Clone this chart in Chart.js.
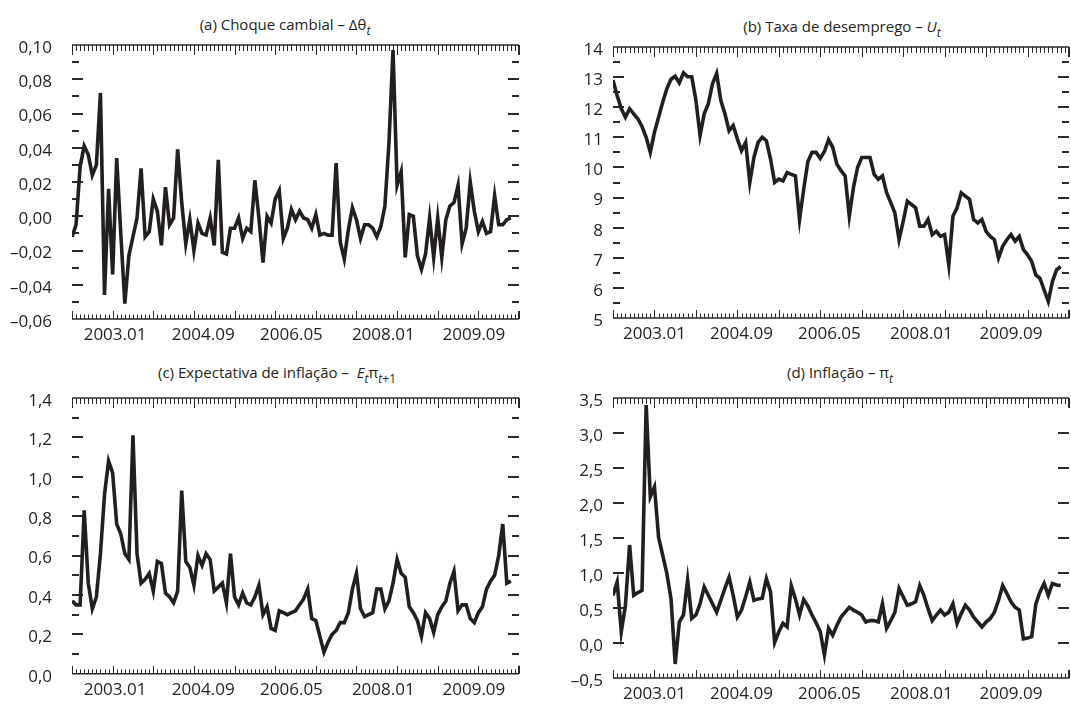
<!DOCTYPE html>
<html>
<head>
<meta charset="utf-8">
<script src="https://cdn.jsdelivr.net/npm/chart.js@4.4.1/dist/chart.umd.min.js"></script>
<style>
  body { margin: 0; background: #fff; width: 1071px; height: 704px; position: relative; overflow: hidden;
         font-family: 'Open Sans', sans-serif; color: #231f20; }
  canvas { position: absolute; }
  .ttl { position: absolute; transform: translate(-50%, -50%); font-size: 15px; line-height: 20px; white-space: nowrap; }
  .ttl sub { font-size: 12px; line-height: 0; vertical-align: -5px; }
</style>
</head>
<body>
<div class="ttl" style="left:285px;top:24px">(a) Choque cambial – Δθ<sub><i>t</i></sub></div>
<div class="ttl" style="left:842px;top:26px">(b) Taxa de desemprego – <i>U</i><sub><i>t</i></sub></div>
<div class="ttl" style="left:277px;top:372px">(c) Expectativa de inflação – &nbsp;<i>E</i><sub><i>t</i></sub>π<sub><i>t</i>+1</sub></div>
<div class="ttl" style="left:840px;top:372px">(d) Inflação – π<sub><i>t</i></sub></div>

<canvas id="chart-a" width="540" height="352" style="left:0;top:0"></canvas>
<canvas id="chart-b" width="531" height="352" style="left:540px;top:0"></canvas>
<canvas id="chart-c" width="540" height="352" style="left:0;top:352px"></canvas>
<canvas id="chart-d" width="531" height="352" style="left:540px;top:352px"></canvas>

<script>
// ===========================================
// Data (monthly observations, read off the figure)
// ===========================================

const choqueCambial = [
  -0.012, -0.005, 0.029, 0.041, 0.036, 0.024, 0.030, 0.072, -0.046, 0.016,
  -0.034, 0.034, -0.010, -0.051, -0.023, -0.012, -0.001, 0.028, -0.012, -0.009,
  0.010, 0.003, -0.017, 0.017, -0.005, -0.001, 0.039, 0.008, -0.016, -0.002,
  -0.020, -0.004, -0.010, -0.011, -0.001, -0.017, 0.033, -0.021, -0.022, -0.007,
  -0.007, -0.001, -0.013, -0.007, -0.009, 0.021, -0.001, -0.027, 0.000, -0.004,
  0.010, 0.015, -0.013, -0.007, 0.004, -0.002, 0.003, -0.001, -0.002, -0.007,
  0.001, -0.011, -0.010, -0.011, -0.011, 0.031, -0.015, -0.025, -0.008, 0.005,
  -0.002, -0.013, -0.005, -0.005, -0.007, -0.012, -0.006, 0.006, 0.043, 0.097,
  0.018, 0.026, -0.024, 0.001, 0.000, -0.023, -0.031, -0.022, -0.001, -0.024,
  -0.001, -0.024, -0.002, 0.006, 0.008, 0.018, -0.016, -0.007, 0.020, 0.003,
  -0.009, -0.003, -0.010, -0.009, 0.012, -0.005, -0.005, -0.002, -0.001
];

const taxaDesemprego = [
  12.90, 12.39, 11.95, 11.67, 11.95, 11.78, 11.61, 11.36, 11.00, 10.50,
  11.17, 11.67, 12.17, 12.62, 12.93, 13.03, 12.81, 13.14, 13.01, 13.01,
  12.23, 11.06, 11.78, 12.12, 12.78, 13.12, 12.23, 11.78, 11.22, 11.39,
  10.95, 10.56, 10.83, 9.50, 10.33, 10.83, 11.00, 10.89, 10.28, 9.50,
  9.61, 9.55, 9.83, 9.77, 9.72, 8.27, 9.28, 10.19, 10.50, 10.50,
  10.30, 10.53, 10.92, 10.67, 10.11, 9.89, 9.72, 8.38, 9.33, 10.00,
  10.33, 10.33, 10.33, 9.77, 9.61, 9.72, 9.16, 8.83, 8.49, 7.60,
  8.21, 8.88, 8.77, 8.66, 8.05, 8.05, 8.27, 7.77, 7.88, 7.71,
  7.77, 6.76, 8.38, 8.66, 9.16, 9.05, 8.94, 8.27, 8.16, 8.27,
  7.88, 7.71, 7.60, 6.99, 7.38, 7.60, 7.77, 7.55, 7.71, 7.27,
  7.10, 6.88, 6.43, 6.32, 5.93, 5.55, 6.21, 6.60, 6.71
];

const expectativaInflacao = [
  0.37, 0.35, 0.35, 0.83, 0.46, 0.33, 0.39, 0.61, 0.91, 1.08,
  1.02, 0.76, 0.71, 0.61, 0.58, 1.21, 0.61, 0.46, 0.48, 0.51,
  0.42, 0.57, 0.56, 0.41, 0.39, 0.36, 0.42, 0.93, 0.57, 0.54,
  0.45, 0.60, 0.55, 0.61, 0.58, 0.42, 0.44, 0.46, 0.36, 0.61,
  0.39, 0.35, 0.41, 0.36, 0.35, 0.39, 0.45, 0.30, 0.34, 0.23,
  0.22, 0.32, 0.31, 0.30, 0.31, 0.32, 0.35, 0.38, 0.43, 0.28,
  0.27, 0.19, 0.11, 0.16, 0.20, 0.22, 0.26, 0.26, 0.31, 0.43,
  0.51, 0.33, 0.29, 0.30, 0.31, 0.43, 0.43, 0.33, 0.37, 0.46,
  0.58, 0.51, 0.49, 0.34, 0.31, 0.27, 0.19, 0.31, 0.28, 0.21,
  0.30, 0.34, 0.37, 0.46, 0.52, 0.32, 0.35, 0.35, 0.28, 0.26,
  0.31, 0.34, 0.43, 0.47, 0.50, 0.60, 0.76, 0.46, 0.47
];

const inflacao = [
  0.68, 0.87, 0.16, 0.54, 1.40, 0.68, 0.72, 0.75, 3.40, 2.09,
  2.23, 1.51, 1.25, 0.99, 0.63, -0.30, 0.30, 0.40, 0.90, 0.35,
  0.40, 0.56, 0.80, 0.68, 0.56, 0.44, 0.61, 0.78, 0.94, 0.68,
  0.37, 0.47, 0.66, 0.87, 0.61, 0.63, 0.64, 0.92, 0.73, 0.01,
  0.16, 0.28, 0.23, 0.82, 0.63, 0.40, 0.62, 0.53, 0.40, 0.29,
  0.16, -0.17, 0.21, 0.11, 0.25, 0.37, 0.44, 0.51, 0.47, 0.44,
  0.40, 0.30, 0.32, 0.32, 0.30, 0.56, 0.21, 0.32, 0.44, 0.78,
  0.66, 0.54, 0.56, 0.59, 0.82, 0.68, 0.49, 0.32, 0.40, 0.47,
  0.40, 0.44, 0.56, 0.28, 0.42, 0.54, 0.47, 0.37, 0.30, 0.23,
  0.30, 0.35, 0.44, 0.61, 0.82, 0.71, 0.59, 0.51, 0.47, 0.06,
  0.07, 0.09, 0.56, 0.73, 0.85, 0.68, 0.85, 0.83, 0.82
];

// x tick labels and where they sit (observation index)
const xTickLabels = ['2003.01', '2004.09', '2006.05', '2008.01', '2009.09'];
const xTickPosLeft = [10.6, 32.3, 54.0, 76.6, 98.9];
const xTickPosRight = [10.0, 31.0, 52.2, 74.4, 96.0];

// y tick labels
const yTicksA = [-0.06, -0.04, -0.02, 0, 0.02, 0.04, 0.06, 0.08, 0.10];
const yTicksB = [5, 6, 7, 8, 9, 10, 11, 12, 13, 14];
const yTicksC = [0, 0.2, 0.4, 0.6, 0.8, 1.0, 1.2, 1.4];
const yTicksD = [-0.5, 0, 0.5, 1.0, 1.5, 2.0, 2.5, 3.0, 3.5];

// inner dashes on the left / right edges
const dashMajorA = [-0.04, -0.02, 0, 0.02, 0.04, 0.06, 0.08];
const dashMinorA = [-0.05, -0.03, -0.01, 0.01, 0.03, 0.05, 0.07, 0.09];
const dashMajorB = [6, 7, 8, 9, 10, 11, 12, 13];
const dashMinorB = [5.5, 6.5, 7.5, 8.5, 9.5, 10.5, 11.5, 12.5, 13.5];
const dashMajorC = [0.2, 0.4, 0.6, 0.8, 1.0, 1.2];
const dashMinorC = [0.1, 0.3, 0.5, 0.7, 0.9, 1.1, 1.3];
const dashMajorD = [0, 0.5, 1.0, 1.5, 2.0, 2.5, 3.0];
const dashMinorD = [];

const ink = '#231f20';
const fontFamily = "'Open Sans', sans-serif";

// ===========================================
// Frame plugin: top/bottom rules with an inward tick per observation,
// short dashes on the left and right edges
// ===========================================
const frameTicks = {
    id: 'frameTicks',
    beforeDatasetsDraw(chart, args, opts) {
        const { ctx, chartArea: a, scales: { x, y } } = chart;
        ctx.save();
        ctx.strokeStyle = '#2a2a2a';

        ctx.lineWidth = 1.6;
        ctx.beginPath();
        ctx.moveTo(a.left, a.top); ctx.lineTo(a.right, a.top);
        ctx.moveTo(a.left, a.bottom); ctx.lineTo(a.right, a.bottom);
        ctx.stroke();

        ctx.lineWidth = 1;
        ctx.beginPath();
        for (let i = 0; i <= Math.floor(x.max); i++) {
            const px = Math.round(x.getPixelForValue(i)) + 0.5;
            const tall = i % 10 === 0;
            ctx.moveTo(px, a.top); ctx.lineTo(px, a.top + (tall ? 10 : 6));
            ctx.moveTo(px, a.bottom); ctx.lineTo(px, a.bottom - (tall ? 8 : 4.5));
        }
        // end caps on the right
        ctx.moveTo(a.right - 0.5, a.top); ctx.lineTo(a.right - 0.5, a.top + 10);
        ctx.moveTo(a.right - 0.5, a.bottom); ctx.lineTo(a.right - 0.5, a.bottom - 8);
        ctx.stroke();

        ctx.lineWidth = 2;
        ctx.beginPath();
        const dash = (v, len) => {
            const py = Math.round(y.getPixelForValue(v));
            ctx.moveTo(a.left, py); ctx.lineTo(a.left + len, py);
            ctx.moveTo(a.right, py); ctx.lineTo(a.right - len, py);
        };
        opts.major.forEach(v => dash(v, 11));
        opts.minor.forEach(v => dash(v, 7));
        ctx.stroke();
        ctx.restore();
    }
};

function formatTick(v, dec) {
    return v.toFixed(dec).replace('.', ',').replace('-', '–');
}

function makePanel(id, values, cfg) {
    return new Chart(document.getElementById(id), {
        type: 'line',
        data: {
            datasets: [{
                data: values.map((v, i) => ({ x: i, y: v })),
                borderColor: ink,
                borderWidth: 3.6,
                borderJoinStyle: 'miter',
                pointRadius: 0,
                tension: 0,
                fill: false
            }]
        },
        options: {
            responsive: false,
            animation: false,
            events: [],
            layout: { autoPadding: false, padding: cfg.padding },
            plugins: {
                legend: { display: false },
                tooltip: { enabled: false },
                frameTicks: { major: cfg.dashMajor, minor: cfg.dashMinor }
            },
            scales: {
                x: {
                    type: 'linear',
                    min: 0,
                    max: 110,
                    grid: { display: false, drawTicks: false },
                    border: { display: false },
                    afterBuildTicks: s => { s.ticks = cfg.xPos.map(v => ({ value: v })); },
                    afterFit: s => { s.height = cfg.xAxisH; },
                    ticks: {
                        autoSkip: false,
                        maxRotation: 0,
                        padding: 6,
                        color: ink,
                        font: { family: fontFamily, size: 17 },
                        callback: (v, i) => xTickLabels[i]
                    }
                },
                y: {
                    min: cfg.yMin,
                    max: cfg.yMax,
                    grid: { display: false, drawTicks: false },
                    border: { display: false },
                    afterBuildTicks: s => { s.ticks = cfg.yTicks.map(v => ({ value: v })); },
                    afterFit: s => { s.width = cfg.yAxisW; },
                    ticks: {
                        padding: cfg.labelGap,
                        labelOffset: 3,
                        color: ink,
                        font: { family: fontFamily, size: 17 },
                        callback: v => formatTick(v, cfg.dec)
                    }
                }
            }
        },
        plugins: [frameTicks]
    });
}

makePanel('chart-a', choqueCambial, {
    yMin: -0.06, yMax: 0.10, yTicks: yTicksA, dec: 2, dashMajor: dashMajorA, dashMinor: dashMinorA,
    xPos: xTickPosLeft, padding: { left: 0, top: 45, right: 21, bottom: 0 }, yAxisW: 72, xAxisH: 33, labelGap: 20
});
makePanel('chart-b', taxaDesemprego, {
    yMin: 5, yMax: 14, yTicks: yTicksB, dec: 0, dashMajor: dashMajorB, dashMinor: dashMinorB,
    xPos: xTickPosRight, padding: { left: 0, top: 47, right: 2, bottom: 0 }, yAxisW: 73, xAxisH: 34, labelGap: 10
});
makePanel('chart-c', expectativaInflacao, {
    yMin: 0, yMax: 1.4, yTicks: yTicksC, dec: 1, dashMajor: dashMajorC, dashMinor: dashMinorC,
    xPos: xTickPosLeft, padding: { left: 0, top: 46, right: 21, bottom: 0 }, yAxisW: 72, xAxisH: 26, labelGap: 20
});
makePanel('chart-d', inflacao, {
    yMin: -0.5, yMax: 3.5, yTicks: yTicksD, dec: 1, dashMajor: dashMajorD, dashMinor: dashMinorD,
    xPos: xTickPosRight, padding: { left: 0, top: 46, right: 2, bottom: 0 }, yAxisW: 73, xAxisH: 26, labelGap: 10
});
</script>
</body>
</html>
